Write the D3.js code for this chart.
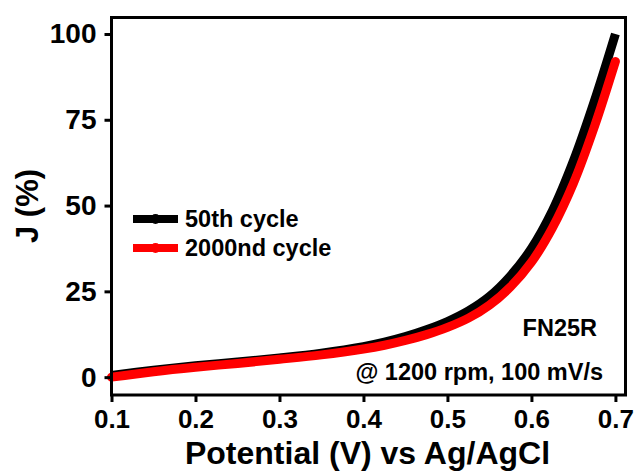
<!DOCTYPE html>
<html>
<head>
<meta charset="utf-8">
<script src="https://cdn.jsdelivr.net/npm/d3@7"></script>
<style>
  body { margin: 0; background: #fff; }
  svg { font-family: "Liberation Sans", Arial, sans-serif; font-weight: bold; }
</style>
</head>
<body>
<script>
(function(){

//data
var potential = [0.10, 0.15, 0.20, 0.25, 0.30, 0.35, 0.40, 0.425, 0.45, 0.475, 0.50, 0.525, 0.55, 0.575, 0.60, 0.625, 0.65, 0.675, 0.70];
var cycle50 = [0.5, 2.0, 3.3, 4.4, 5.6, 7.0, 8.9, 10.2, 11.8, 13.8, 16.2, 19.3, 23.5, 29.5, 37.5, 48.5, 63.0, 80.5, 100];
var cycle2000 = [0.0, 1.6, 2.9, 4.0, 5.2, 6.5, 8.2, 9.3, 10.7, 12.4, 14.5, 17.2, 21.0, 26.3, 33.5, 43.5, 56.5, 73.0, 92];
var xTicks = [0.1, 0.2, 0.3, 0.4, 0.5, 0.6, 0.7];
var yTicks = [0, 25, 50, 75, 100];
var seriesNames = ["50th cycle", "2000nd cycle"];
var seriesColors = ["#000000", "#ff0000"];

var width = 638,
    height = 472;

var svg = d3.select("body")
    .append("svg")
    .attr("width", width)
    .attr("height", height);

var left = 111.5, right = 625.5, top = 17.5, bottom = 395;

var x = d3.scaleLinear()
    .domain([0.1, 0.712])
    .range([left, right]);

var y = d3.scaleLinear()
    .domain([-5.2, 104.8])
    .range([bottom, top]);

//curves
var line = d3.line()
    .x(function(d){ return x(d[0]); })
    .y(function(d){ return y(d[1]); })
    .curve(d3.curveCatmullRom.alpha(0.5));

var black = potential.map(function(v, i){ return [v, cycle50[i]]; });
var red = potential.map(function(v, i){ return [v, cycle2000[i]]; });

svg.append("path")
    .datum(black)
    .attr("d", line)
    .attr("fill", "none")
    .attr("stroke", seriesColors[0])
    .attr("stroke-width", 9);

svg.append("path")
    .datum(red)
    .attr("d", line)
    .attr("fill", "none")
    .attr("stroke", seriesColors[1])
    .attr("stroke-width", 9)
    .attr("stroke-linecap", "round");

//frame
svg.append("rect")
    .attr("x", left)
    .attr("y", top)
    .attr("width", right - left)
    .attr("height", bottom - top)
    .attr("fill", "none")
    .attr("stroke", "#000")
    .attr("stroke-width", 3);

//axes
var xAxis = svg.append("g")
    .attr("transform", "translate(0," + bottom + ")")
    .call(d3.axisBottom(x).tickValues(xTicks).tickSize(7).tickPadding(8).tickFormat(d3.format(".1f")));

var yAxis = svg.append("g")
    .attr("transform", "translate(" + left + ",0)")
    .call(d3.axisLeft(y).tickValues(yTicks).tickSize(7).tickPadding(8));

[xAxis, yAxis].forEach(function(g){
    g.select(".domain").remove();
    g.selectAll(".tick line").attr("stroke", "#000").attr("stroke-width", 3);
    g.selectAll(".tick text")
        .attr("fill", "#000")
        .style("font-family", "'Liberation Sans', Arial, sans-serif")
        .style("font-weight", "bold");
});
xAxis.selectAll(".tick text").style("font-size", "26px");
yAxis.selectAll(".tick text").style("font-size", "28px");

//axis titles
svg.append("text")
    .attr("x", 367.5)
    .attr("y", 464)
    .attr("text-anchor", "middle")
    .style("font-size", "32px")
    .text("Potential (V) vs Ag/AgCl");

svg.append("text")
    .attr("transform", "translate(38,206) rotate(-90)")
    .attr("text-anchor", "middle")
    .style("font-size", "31px")
    .text("J (%)");

//legend
var legend = svg.selectAll(".legend")
    .data(seriesNames)
    .enter()
    .append("g")
    .attr("class", "legend")
    .attr("transform", function(d, i){ return "translate(0," + (219 + i * 29) + ")"; });

legend.append("line")
    .attr("x1", 133).attr("x2", 178)
    .attr("stroke", function(d, i){ return seriesColors[i]; })
    .attr("stroke-width", 8);

legend.append("circle")
    .attr("cx", 155.5)
    .attr("r", 5)
    .attr("fill", function(d, i){ return seriesColors[i]; });

legend.append("text")
    .attr("x", 185)
    .attr("y", 7.5)
    .style("font-size", "23.5px")
    .text(function(d){ return d; });

//annotations
svg.append("text")
    .attr("x", 597)
    .attr("y", 336)
    .attr("text-anchor", "end")
    .style("font-size", "23.5px")
    .text("FN25R");

svg.append("text")
    .attr("x", 603)
    .attr("y", 380)
    .attr("text-anchor", "end")
    .style("font-size", "23.5px")
    .text("@ 1200 rpm, 100 mV/s");

})();
</script>
</body>
</html>
